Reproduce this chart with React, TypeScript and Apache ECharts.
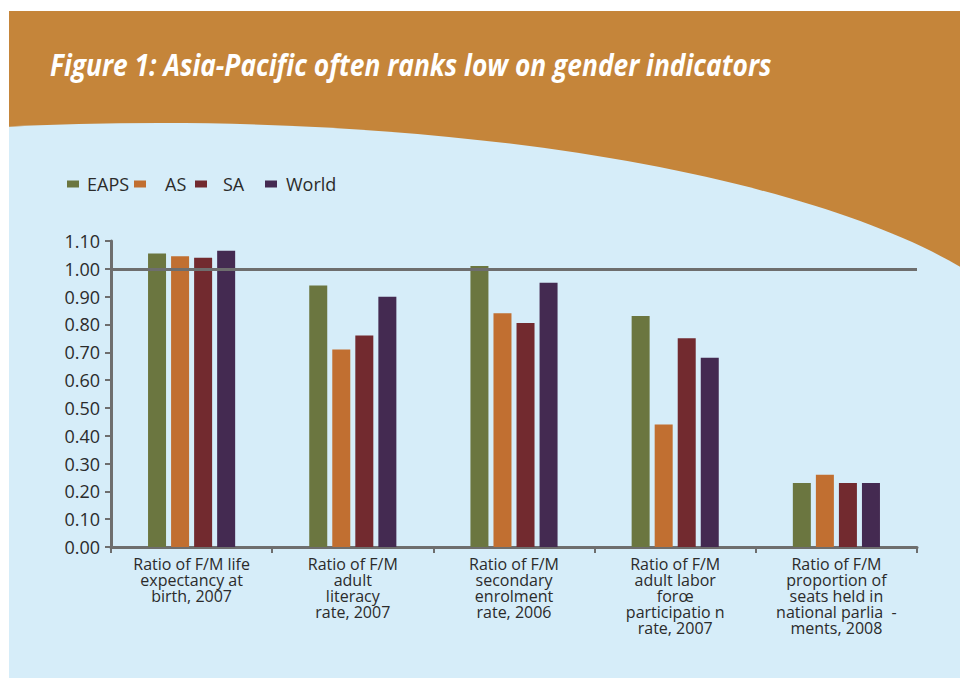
import React, { useEffect, useRef } from "react";
import * as echarts from "echarts";

const categories = [
  "Ratio of F/M life\nexpectancy at\nbirth, 2007",
  "Ratio of F/M\nadult\nliteracy\nrate, 2007",
  "Ratio of F/M\nsecondary\nenrolment\nrate, 2006",
  "Ratio of F/M\nadult labor\nforœ\nparticipatio n\nrate, 2007",
  "Ratio of F/M\nproportion of\nseats held in\nnational parlia  -\nments, 2008",
];
const seriesNames = ["EAPS", "AS", "SA", "World"];
const eaps = [1.055, 0.94, 1.01, 0.83, 0.23];
const as_ = [1.045, 0.71, 0.84, 0.44, 0.26];
const sa = [1.04, 0.76, 0.805, 0.75, 0.23];
const world = [1.065, 0.9, 0.95, 0.68, 0.23];
const colors = ["#6B7640", "#C16F31", "#722A2F", "#442A51"];
const titleText = "Figure 1: Asia-Pacific often ranks low on gender indicators";
const referenceLine = 1.0;

export default function App() {
  const ref = useRef<HTMLDivElement>(null);
  useEffect(() => {
    document.body.style.margin = "0";
    const chart = echarts.init(ref.current!, null, { renderer: "svg" });
    const values = [eaps, as_, sa, world];
    const legendLeft = [67, 134, 195, 265];
    const legendPad = [3, 14, 11, 4];
    const font = "Open Sans";
    chart.setOption({
      animation: false,
      backgroundColor: "#ffffff",
      graphic: [
        { type: "rect", z: -10, shape: { x: 9, y: 11, width: 951, height: 667 }, style: { fill: "#C5853A" }, silent: true },
        { type: "ellipse", z: -9, shape: { cx: 160, cy: 381, rx: 892, ry: 258 }, style: { fill: "#D6EDF9" }, silent: true },
        { type: "rect", z: -9, shape: { x: 9, y: 381, width: 951, height: 297 }, style: { fill: "#D6EDF9" }, silent: true },
        { type: "rect", z: -8, shape: { x: 0, y: 0, width: 9, height: 678 }, style: { fill: "#ffffff" }, silent: true },
        {
          type: "text",
          z: 10,
          x: 50,
          y: 64,
          scaleX: 0.85,
          style: {
            text: titleText,
            fill: "#ffffff",
            font: "italic bold 31px 'Open Sans', sans-serif",
            textVerticalAlign: "middle",
          },
        },
      ],
      legend: seriesNames.map((n, i) => ({
        data: [n],
        left: legendLeft[i],
        top: 174,
        padding: 0,
        itemWidth: 12,
        itemHeight: 7,
        icon: "rect",
        selectedMode: false,
        textStyle: {
          fontFamily: font,
          fontSize: 18,
          lineHeight: 20,
          color: "#2b2b2b",
          padding: [0, 0, 0, legendPad[i]],
        },
      })),
      grid: { left: 111, right: 43, top: 241, bottom: 131, containLabel: false },
      xAxis: {
        type: "category",
        data: categories,
        axisLine: { lineStyle: { color: "#6e6e6e", width: 3 } },
        axisTick: { show: true, length: 6, lineStyle: { color: "#6e6e6e", width: 2 } },
        axisLabel: {
          interval: 0,
          margin: 9,
          fontFamily: font,
          fontSize: 16,
          lineHeight: 16,
          color: "#2b2b2b",
        },
      },
      yAxis: {
        type: "value",
        min: 0,
        max: 1.1,
        interval: 0.1,
        splitLine: { show: false },
        axisLine: { show: true, lineStyle: { color: "#6e6e6e", width: 3 } },
        axisTick: { show: true, length: 6, lineStyle: { color: "#6e6e6e", width: 2 } },
        axisLabel: {
          margin: 11,
          fontFamily: font,
          fontSize: 18,
          color: "#2b2b2b",
          formatter: (v: number) => v.toFixed(2),
        },
      },
      series: seriesNames.map((n, i) => ({
        name: n,
        type: "bar",
        data: values[i],
        barWidth: 18,
        barGap: "28%",
        itemStyle: { color: colors[i] },
        ...(i === 0
          ? {
              markLine: {
                silent: true,
                symbol: "none",
                label: { show: false },
                lineStyle: { color: "#6e6e6e", width: 3, type: "solid" },
                data: [{ yAxis: referenceLine }],
                z: 10,
              },
            }
          : {}),
      })),
    });
    return () => chart.dispose();
  }, []);
  return <div ref={ref} style={{ width: 960, height: 678 }} />;
}
